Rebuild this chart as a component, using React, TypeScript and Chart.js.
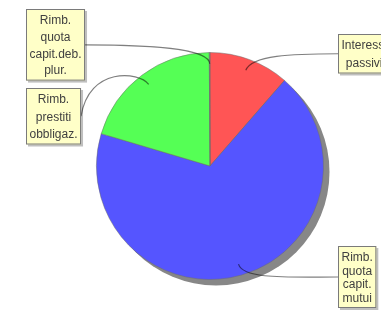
import React, { useEffect, useRef } from "react";
import { Chart, registerables } from "chart.js";

Chart.register(...registerables);

// ---- data ----
const categories: string[][] = [
  ["Interessi", "passivi"],
  ["Rimb.", "quota", "capit.", "mutui"],
  ["Rimb.", "prestiti", "obbligaz."],
  ["Rimb.", "quota", "capit.deb.", "plur."],
];
const values: number[] = [11.4, 68.2, 20.3, 0.1];
const colors: string[] = ["#FF5555", "#5555FF", "#55FF55", "#808080"];

// ---- callout layout (label boxes) ----
const calloutLayout = [
  { side: "right", top: 34, lineH: 18, vertical: false },
  { side: "right", top: 246, lineH: 13.5, vertical: false },
  { side: "left", top: 88, lineH: 17.5, vertical: true },
  { side: "left", top: 9, lineH: 16.7, vertical: false },
];

const shadowPlugin = {
  id: "pieShadow",
  beforeDatasetsDraw(chart: any) {
    const meta = chart.getDatasetMeta(0);
    const arc = meta.data[0];
    if (!arc) return;
    const { x, y, outerRadius } = arc.getProps(["x", "y", "outerRadius"], true);
    const ctx = chart.ctx;
    ctx.save();
    ctx.fillStyle = "#878787";
    ctx.beginPath();
    ctx.arc(x + 6, y + 6, outerRadius, 0, Math.PI * 2);
    ctx.fill();
    ctx.restore();
  },
};

const calloutPlugin = {
  id: "callouts",
  afterDraw(chart: any) {
    const ctx = chart.ctx;
    const meta = chart.getDatasetMeta(0);
    const labels = chart.data.labels as string[][];
    ctx.save();
    ctx.font = "12px Arial, 'Liberation Sans', sans-serif";
    const boxes: any[] = [];
    meta.data.forEach((arc: any, i: number) => {
      const p = arc.getProps(["x", "y", "startAngle", "endAngle", "outerRadius"], true);
      const mid = (p.startAngle + p.endAngle) / 2;
      const r = p.outerRadius * 0.9;
      const ex = p.x + Math.cos(mid) * r;
      const ey = p.y + Math.sin(mid) * r;
      const lay = calloutLayout[i];
      const lines = labels[i];
      const w = Math.max(...lines.map((l) => ctx.measureText(l).width)) + 7;
      const h = 12 + (lines.length - 1) * lay.lineH + 9.5;
      const left = lay.side === "left" ? chart.chartArea.left - 70 : chart.chartArea.right + 14;
      const top = lay.top;
      const sx = lay.side === "left" ? left + w : left;
      const sy = top + h / 2;
      // connector
      const ox = Math.cos(mid) * 16;
      const oy = Math.sin(mid) * 16;
      let c1x: number, c1y: number;
      if (lay.vertical) {
        c1x = sx + 8;
        c1y = ey - 18;
      } else {
        c1x = sx + (ex - sx) * 0.5;
        c1y = sy;
      }
      ctx.beginPath();
      ctx.moveTo(sx, sy);
      ctx.bezierCurveTo(c1x, c1y, ex + ox, ey + oy, ex, ey);
      ctx.strokeStyle = "rgba(0,0,0,0.5)";
      ctx.lineWidth = 1.2;
      ctx.stroke();
      boxes.push({ left, top, w, h, lines, lay });
    });
    boxes.forEach((b) => {
      ctx.fillStyle = "rgba(0,0,0,0.25)";
      ctx.fillRect(b.left + 2, b.top + 2, b.w, b.h);
      ctx.fillStyle = "#FFFFC8";
      ctx.fillRect(b.left, b.top, b.w, b.h);
      ctx.strokeStyle = "#7a7a7a";
      ctx.lineWidth = 1;
      ctx.strokeRect(b.left + 0.5, b.top + 0.5, b.w - 1, b.h - 1);
      ctx.fillStyle = "#404040";
      ctx.textAlign = "center";
      ctx.textBaseline = "middle";
      b.lines.forEach((l: string, j: number) => {
        ctx.fillText(l, b.left + b.w / 2, b.top + 12 + j * b.lay.lineH);
      });
    });
    ctx.restore();
  },
};

export default function App() {
  const ref = useRef<HTMLCanvasElement | null>(null);
  useEffect(() => {
    document.body.style.margin = "0";
    const chart = new Chart(ref.current as HTMLCanvasElement, {
      type: "pie",
      data: {
        labels: categories,
        datasets: [
          {
            data: values,
            backgroundColor: colors,
            borderColor: "rgba(110,110,110,0.5)",
            borderWidth: 1,
          },
        ],
      },
      options: {
        responsive: false,
        animation: false,
        layout: { padding: { left: 96, right: 57, top: 52, bottom: 35 } },
        plugins: {
          legend: { display: false },
          tooltip: { enabled: false },
        },
      },
      plugins: [shadowPlugin, calloutPlugin],
    });
    return () => chart.destroy();
  }, []);
  return (
    <div style={{ position: "fixed", left: 0, top: 0, width: 381, height: 315, background: "#fff" }}>
      <canvas ref={ref} width={381} height={315} />
    </div>
  );
}
